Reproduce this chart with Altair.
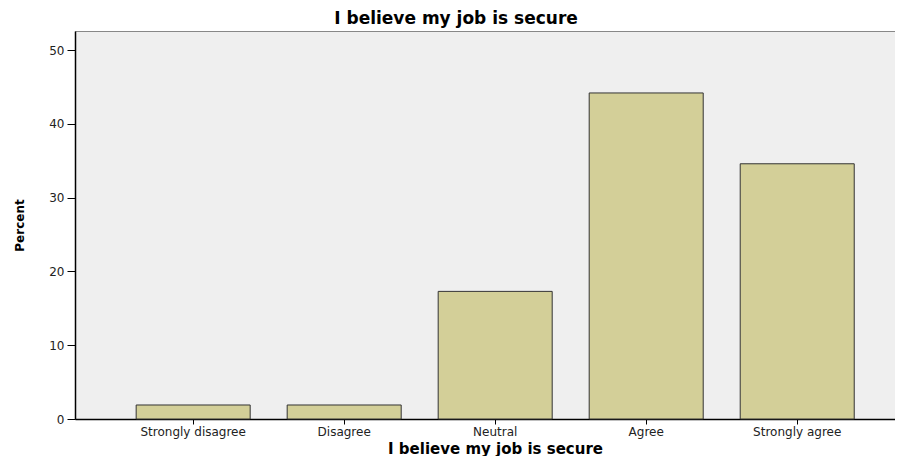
import altair as alt
import pandas as pd

categories = ["Strongly disagree", "Disagree", "Neutral", "Agree", "Strongly agree"]
percent = [1.9, 1.9, 17.3, 44.2, 34.6]

df = pd.DataFrame({"category": categories, "percent": percent})

chart = alt.Chart(df).mark_bar(
    fill="#D3CF98", stroke="#333333", strokeWidth=1
).encode(
    x=alt.X(
        "category:N",
        sort=categories,
        scale=alt.Scale(paddingInner=0.245, paddingOuter=0.3375, align=0.6),
        axis=alt.Axis(
            title="I believe my job is secure",
            titleFont="DejaVu Sans", titleFontSize=15, titleFontWeight="bold",
            titleColor="black", titleBaseline="alphabetic", titleX=420, titleY=34,
            labelFont="DejaVu Sans", labelFontSize=12, labelColor="#222222",
            labelAngle=0, labelPadding=2, tickSize=5, tickColor="black",
            domainColor="black", domainWidth=1.5,
        ),
    ),
    y=alt.Y(
        "percent:Q",
        scale=alt.Scale(domain=[0, 52.6], nice=False),
        axis=alt.Axis(
            title="Percent",
            titleFont="DejaVu Sans", titleFontSize=12, titleFontWeight="bold",
            titleColor="black", titleX=-49, titleY=194,
            values=[0, 10, 20, 30, 40, 50],
            labelFont="DejaVu Sans", labelFontSize=12, labelColor="#222222",
            labelPadding=3, tickSize=8, tickColor="black",
            domainColor="black", domainWidth=1.5, grid=False,
        ),
    ),
).properties(
    width=820,
    height=388,
    background="white",
    title=alt.TitleParams(
        text="I believe my job is secure",
        font="DejaVu Sans", fontSize=17, fontWeight="bold", color="black",
        anchor="middle", dx=-29, offset=3,
    ),
    autosize=alt.AutoSizeParams(type="none"),
    padding={"left": 67, "top": 23, "right": 0, "bottom": 37},
).configure_view(
    fill="#EFEFEF", stroke="#888888", strokeWidth=1
)

chart.save("out.html", embed_options={"renderer": "svg", "actions": False})
